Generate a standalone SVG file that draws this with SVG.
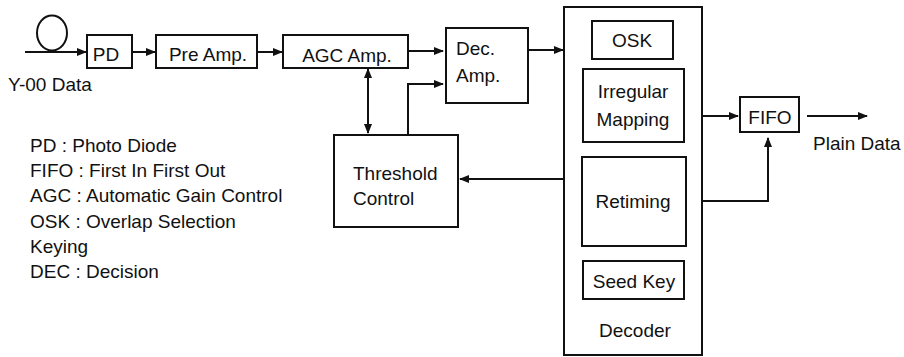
<svg xmlns="http://www.w3.org/2000/svg" width="904" height="357" viewBox="0 0 904 357">
<defs>
<marker id="ah" markerWidth="10" markerHeight="8" refX="9" refY="4" orient="auto" markerUnits="userSpaceOnUse">
<path d="M0,0 L10,4 L0,8 Z" fill="#111"/>
</marker>
<marker id="ahs" markerWidth="10" markerHeight="8" refX="1" refY="4" orient="auto" markerUnits="userSpaceOnUse">
<path d="M10,0 L0,4 L10,8 Z" fill="#111"/>
</marker>
</defs>
<style>
.n rect,ellipse{fill:#fff;stroke:#111;stroke-width:2}
.c path,.c line,.c polyline{fill:none;stroke:#111;stroke-width:2}
text{font-family:"Liberation Sans",Arial,sans-serif;font-size:19px;fill:#111}
.m{text-anchor:middle}
</style>
<rect x="0" y="0" width="904" height="357" fill="#fff"/>
<g class="c" id="connectors">
<line x1="25" y1="52" x2="86" y2="52" marker-end="url(#ah)"/>
<line x1="133" y1="52" x2="155" y2="52" marker-end="url(#ah)"/>
<line x1="258" y1="52" x2="282" y2="52" marker-end="url(#ah)"/>
<line x1="409" y1="51" x2="443" y2="51" marker-end="url(#ah)"/>
<line x1="529" y1="50" x2="563" y2="50" marker-end="url(#ah)"/>
<line x1="368" y1="69" x2="368" y2="133" marker-start="url(#ahs)" marker-end="url(#ah)"/>
<polyline points="408,135 408,84 443,84" marker-end="url(#ah)"/>
<line x1="564" y1="179" x2="460" y2="179" marker-end="url(#ah)"/>
<line x1="703" y1="116" x2="738" y2="116" marker-end="url(#ah)"/>
<line x1="807" y1="116" x2="867" y2="116" marker-end="url(#ah)"/>
<polyline points="703,201 768,201 768,138" marker-end="url(#ah)"/>
</g>
<g id="fiber"><ellipse cx="52" cy="33" rx="15" ry="17.5"/></g>
<g class="n" id="pd"><rect x="87" y="35" width="45" height="33"/><text x="106" y="61" class="m">PD</text></g>
<g class="n" id="preamp"><rect x="156" y="35" width="101" height="33"/><text x="208" y="61" class="m">Pre Amp.</text></g>
<g class="n" id="agc"><rect x="283" y="35" width="125" height="33"/><text x="347" y="62" class="m">AGC Amp.</text></g>
<g class="n" id="dec"><rect x="446" y="28" width="82" height="75"/><text x="456" y="55">Dec.</text><text x="456" y="82">Amp.</text></g>
<g class="n" id="threshold"><rect x="334" y="135" width="124" height="92"/><text x="353" y="180">Threshold</text><text x="353" y="205">Control</text></g>
<g class="n" id="decoder">
<rect x="564" y="7" width="138" height="348"/>
<text x="635" y="337" class="m">Decoder</text>
<g id="osk"><rect x="592" y="21" width="81" height="38"/><text x="632" y="47" class="m">OSK</text></g>
<g id="irregular"><rect x="583" y="69" width="101" height="73"/><text x="633" y="98" class="m">Irregular</text><text x="633" y="126" class="m">Mapping</text></g>
<g id="retiming"><rect x="582" y="157" width="104" height="89"/><text x="633" y="208" class="m">Retiming</text></g>
<g id="seedkey"><rect x="583" y="261" width="101" height="38"/><text x="634" y="288" class="m">Seed Key</text></g>
</g>
<g class="n" id="fifo"><rect x="740" y="97" width="59" height="35"/><text x="770" y="124" class="m">FIFO</text></g>
<g id="labels">
<text x="8" y="91">Y-00 Data</text>
<text x="813" y="150">Plain Data</text>
<text x="30" y="152">PD : Photo Diode</text>
<text x="30" y="177">FIFO : First In First Out</text>
<text x="30" y="202">AGC : Automatic Gain Control</text>
<text x="30" y="228">OSK : Overlap Selection</text>
<text x="30" y="253">Keying</text>
<text x="30" y="278">DEC : Decision</text>
</g>
</svg>
